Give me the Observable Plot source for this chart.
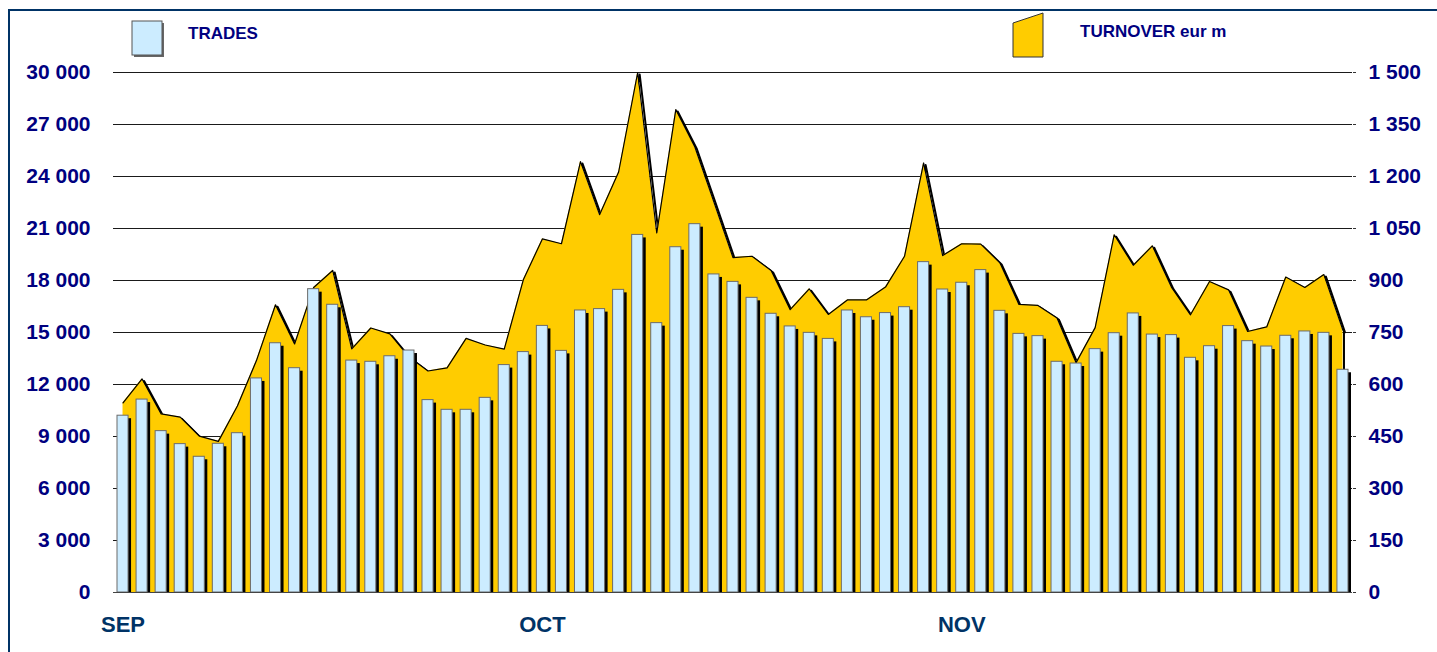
<!DOCTYPE html>
<html>
<head>
<meta charset="utf-8">
<script src="https://cdn.jsdelivr.net/npm/d3@7"></script>
<script src="https://cdn.jsdelivr.net/npm/@observablehq/plot@0.6"></script>
<style>
  body { margin: 0; background: #fff; font-family: "Liberation Sans", Arial, sans-serif; }
  #wrap { position: relative; width: 1437px; height: 652px; overflow: hidden; background: #fff; }
  #frame { position: absolute; left: 8px; top: 9px; width: 1500px; height: 700px;
           border-left: 2px solid #003366; border-top: 2px solid #003366; }
  #chart { position: absolute; left: 0; top: 0; }
  #chart svg { display: block; }
  #legend { position: absolute; left: 0; top: 0; }
</style>
</head>
<body>
<div id="wrap">
  <div id="frame"></div>
  <div id="chart"></div>
  <svg id="legend" width="1437" height="70">
    <rect x="134" y="23" width="30" height="34" fill="#666"></rect>
    <rect x="132" y="21" width="30" height="34" fill="#CCECFF" stroke="#555" stroke-width="1"></rect>
    <text x="188" y="39" font-family="Liberation Sans, Arial, sans-serif" font-weight="bold" font-size="17" fill="#000080">TRADES</text>
    <polygon points="1013,23 1043,13 1043,57 1013,57" fill="#FFCC00" stroke="#333" stroke-width="1"></polygon>
    <text x="1080" y="37" font-family="Liberation Sans, Arial, sans-serif" font-weight="bold" font-size="17" fill="#000080">TURNOVER eur m</text>
  </svg>
</div>
<script>
// ---- data ----
const monthLabels = ["SEP", "OCT", "NOV"];
const monthStart = [0, 22, 44];

const trades = [
  10200, 11130, 9310, 8560, 7830, 8580, 9190, 12350, 14380, 12940,
  17500, 16600, 13380, 13310, 13630, 13960, 11100, 10540, 10540, 11230,
  13120, 13870, 15380, 13940, 16270, 16350, 17460, 20630, 15540, 19920,
  21250, 18350, 17920, 17000, 16080, 15350, 14980, 14630, 16270, 15880,
  16120, 16460, 19060, 17480, 17870, 18600, 16250, 14920, 14790, 13310,
  13210, 14040, 14960, 16100, 14880, 14850, 13540, 14210, 15370, 14500,
  14190, 14810, 15060, 14980, 12850
];

const turnover = [
  547, 616, 515, 506, 451, 436, 538, 669, 830, 717,
  880, 929, 703, 763, 746, 680, 639, 648, 733, 714,
  702, 902, 1020, 1006, 1243, 1090, 1213, 1500, 1037, 1393,
  1285, 1126, 966, 970, 929, 816, 876, 802, 844, 844,
  881, 970, 1239, 972, 1006, 1005, 951, 831, 828, 792,
  663, 764, 1032, 944, 1000, 881, 801, 897, 873, 753,
  766, 910, 880, 917, 756
];

const tradesTicks = [0, 3000, 6000, 9000, 12000, 15000, 18000, 21000, 24000, 27000, 30000];
const turnoverTicks = [0, 150, 300, 450, 600, 750, 900, 1050, 1200, 1350, 1500];

// ---- build table ----
const ratio = 30000 / 1500; // right axis maps onto left axis
const rows = trades.map((t, i) => ({ i, trades: t, turnover: turnover[i], tv: turnover[i] * ratio }));
const last = rows[rows.length - 1];
const fmt = v => d3.format(",")(v).replace(/,/g, " ");
const half = 0.29;
const FONT = "Liberation Sans, Arial, sans-serif";

const chart = Plot.plot({
  width: 1437,
  height: 652,
  marginLeft: 113,
  marginRight: 85,
  marginTop: 72,
  marginBottom: 60,
  style: { fontFamily: FONT, background: "transparent", overflow: "visible" },
  x: { type: "linear", domain: [-0.5, rows.length - 0.5] },
  y: { domain: [0, 30000] },
  marks: [
    Plot.ruleY(tradesTicks.filter(d => d > 0), { stroke: "#1a1a1a", strokeWidth: 1 }),
    Plot.line(rows, { x: "i", y: "tv", stroke: "#000", strokeWidth: 2, dx: 2, dy: 2 }),
    Plot.areaY(rows, { x: "i", y1: 0, y2: "tv", fill: "#FFCC00" }),
    Plot.line(rows, { x: "i", y: "tv", stroke: "#000", strokeWidth: 1.2 }),
    Plot.ruleX([last], { x: "i", y1: 0, y2: "tv", stroke: "#000", strokeWidth: 2, dx: 1 }),
    Plot.rect(rows, { x1: d => d.i - half, x2: d => d.i + half, y1: 0, y2: "trades", fill: "#000", dx: 3, dy: 3, clip: true }),
    Plot.rect(rows, { x1: d => d.i - half, x2: d => d.i + half, y1: 0, y2: "trades", fill: "#CCECFF", stroke: "#6b6b6b", strokeWidth: 1 }),
    Plot.ruleY([0], { stroke: "#444", strokeWidth: 1.2 }),
    Plot.axisY({ anchor: "left", ticks: tradesTicks, tickSize: 0, tickPadding: 23, tickFormat: fmt,
      fontSize: 21, fontWeight: "bold", fill: "#000080", label: null }),
    Plot.axisY({ anchor: "right", ticks: turnoverTicks.map(d => d * ratio), tickSize: 3, tickPadding: 13,
      tickFormat: d => fmt(d / ratio), stroke: "#333",
      fontSize: 21, fontWeight: "bold", fill: "#000080", label: null }),
    Plot.axisX({ anchor: "bottom", ticks: monthStart, tickSize: 0, tickPadding: 24,
      tickFormat: d => monthLabels[monthStart.indexOf(d)],
      fontSize: 22, fontWeight: "bold", fill: "#003366", label: null })
  ]
});
document.getElementById("chart").appendChild(chart);
</script>
</body>
</html>
